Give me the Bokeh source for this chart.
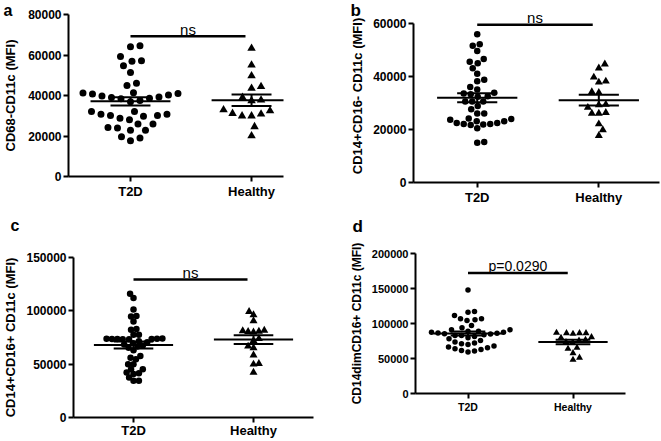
import numpy as np
from bokeh.plotting import figure
from bokeh.models import Range1d, FixedTicker, Title
from bokeh.layouts import column, row
from bokeh.embed import file_html
from bokeh.resources import INLINE
from bokeh.core.properties import value

FONT = "Liberation Sans"

categories = ["T2D", "Healthy"]

# ---- panel a : CD68-CD11c (MFI)
t2d_a = [64600, 64100, 59200, 57200, 56900, 54700, 51400, 46000, 44900,
         41400, 41200, 41000, 40700, 40300, 39700, 39300, 39000, 38700, 38400, 37500, 36900,
         32100, 32100, 30800, 30800, 30100, 30100, 29800,
         28800, 28000, 25900, 25900, 24200, 23900, 22900, 22900,
         19600, 19000, 17600]
healthy_a = [63300, 55000, 49700, 44400, 43500, 39000, 37400, 37700, 32900, 31100,
             29900, 29900, 30800, 32400, 24600, 20100]

# ---- panel b : CD14+CD16- CD11c (MFI)
t2d_b = [55800, 52000, 51500, 49500, 46500, 45400, 44900, 43000, 40900, 38700, 38100, 35900, 35000,
         33800, 33500, 33200, 32500, 32300, 30500, 30500, 30500,
         28800, 27600, 26000, 26000, 24100,
         23900, 23600, 23000, 23000, 22400, 22400, 22000, 22000, 21800, 21600, 20400,
         15200, 15000]
healthy_b = [44500, 43000, 39600, 37700, 38100, 34100, 33800, 29200, 26300, 26000,
             26000, 28200, 29400, 22000, 19800, 17600]

# ---- panel c : CD14+CD16+ CD11c (MFI)
t2d_c = [116100, 112100, 101300, 95200, 94600, 89900, 82900, 82200, 77600, 77600,
         74000, 73800, 73600, 73400, 73900, 73700, 73500, 73300,
         71400, 70500, 69500, 68500, 67500, 66500, 65500, 63000,
         57600, 56100, 54500, 49900, 49900, 45300, 45300, 42200, 41600, 40700, 37600, 34500, 34500]
healthy_c = [99200, 96100, 90600, 81600, 81200, 80700, 80400, 80000, 74000, 72000,
             66800, 65300, 58500, 50500, 49900, 42200]

# ---- panel d : CD14dimCD16+ CD11c (MFI)
t2d_d = [147900, 117000, 116000, 111300, 106700, 106700, 105200, 104200, 97100,
         93900, 91000, 91000, 89000, 89000, 87600, 87600, 86500, 86000, 85500, 85000, 84000, 83000,
         82900, 81500, 79600, 78200, 75800, 73400, 72000,
         71100, 70100, 67700, 66300, 65400, 64000, 63000, 61600, 60600, 59200]
healthy_d = [86700, 86200, 86200, 86200, 85300, 80500, 79600, 76800, 75800, 73500,
             72500, 65400, 64000, 57700, 51200, 48300]

y_titles = ["CD68-CD11c (MFI)", "CD14+CD16- CD11c (MFI)",
            "CD14+CD16+ CD11c (MFI)", "CD14dimCD16+ CD11c (MFI)"]
y_ticks_a = [0, 20000, 40000, 60000, 80000]
y_ticks_b = [0, 20000, 40000, 60000]
y_ticks_c = [0, 50000, 100000, 150000]
y_ticks_d = [0, 50000, 100000, 150000, 200000]
panel_letters = ["a", "b", "c", "d"]
sig_texts = ["ns", "ns", "ns", "p=0.0290"]
sig_y = [69200, 59400, 129400, 172000]


def swarm(vals, vpx, upx, dmin):
    """beeswarm offsets (data x units); vpx: px per value, upx: px per x unit"""
    vals = np.asarray(vals, float)
    order = np.argsort(vals, kind="stable")
    placed = []
    offs = np.zeros(len(vals))
    pref = 1.0
    for i in order:
        y = vals[i] * vpx
        best = None
        k = 0
        while best is None:
            cands = [0.0] if k == 0 else [pref * k * 0.5, -pref * k * 0.5]
            for c in cands:
                if all((c - px) ** 2 + (y - py) ** 2 >= dmin ** 2 for px, py in placed):
                    best = c
                    break
            k += 1
        if best != 0:
            pref = -np.sign(best)
        placed.append((best, y))
        offs[i] = best / upx
    return offs


def make_title(**kw):
    try:
        return Title(**kw)
    except ValueError:
        kw["standoff"] = 0
        return Title(**kw)


def add_letter(p, text, fpx, left, base, FL, FT):
    """panel letter as a plot title placed in the top border"""
    asc, desc = 0.905 * fpx, 0.212 * fpx
    h = asc + desc
    common = dict(text=text, align="left", offset=left - FL, text_font=FONT,
                  text_font_size=f"{fpx}px", text_font_style="bold", text_color="black")
    s_top = 2 * (FT - 2 - desc - base)
    s_bot = 2 * (FT - desc - base)
    if 0 <= 2 + h + s_top <= FT:
        p.title = make_title(vertical_align="top", standoff=s_top, **common)
    elif 0 <= 2 + h + s_bot <= FT:
        p.title = make_title(vertical_align="bottom", standoff=s_bot, **common)
    else:
        # white (invisible) spacer next to the frame, letter title stacked above it
        X = FT - desc - base
        sp_h = 1.117 * 10
        p.add_layout(make_title(text=" ", text_font_size="10px", text_color="white",
                                standoff=max(X - 2 - sp_h, 0)), "above")
        p.add_layout(make_title(vertical_align="bottom", standoff=0, **common), "above")


def make_panel(cfg):
    W, H = cfg["W"], cfg["H"]
    FL, FR, FT, FB = cfg["FL"], cfg["FR"], cfg["FT"], cfg["FB"]
    xs, xe = cfg["xr"]
    ticks = cfg["ticks"]
    ymax = ticks[-1]
    fw = W - FL - FR
    fh = H - FT - FB
    top_rel = cfg.get("ytop", FT) - FT
    ye = ymax * fh / (fh - top_rel)
    upx = fw / (xe - xs)
    vpx = fh / ye

    p = figure(width=W, height=H, x_range=Range1d(xs, xe), y_range=Range1d(0, ye),
               output_backend="svg", toolbar_location=None,
               min_border_left=FL, min_border_right=FR,
               min_border_top=FT, min_border_bottom=FB)
    try:
        p.frame_align = False
    except Exception:
        pass
    p.xgrid.visible = False
    p.ygrid.visible = False
    p.outline_line_color = None
    p.background_fill_color = "white"
    p.border_fill_color = "white"

    for ax in (p.xaxis, p.yaxis):
        ax.axis_line_width = 2
        ax.axis_line_color = "black"
        ax.major_tick_line_width = 2
        ax.major_tick_line_color = "black"
        ax.major_tick_out = 5
        ax.major_tick_in = 0
        ax.minor_tick_line_color = None
        ax.major_label_text_font = FONT
        ax.major_label_text_font_style = "bold"
        ax.major_label_text_color = "black"

    p.xaxis.ticker = FixedTicker(ticks=[1, 2])
    p.xaxis.major_label_overrides = {1: categories[0], 2: categories[1]}
    p.xaxis.major_label_text_font_size = cfg["xfs"]
    p.xaxis.major_label_standoff = cfg.get("xstand", 2)

    p.yaxis.ticker = FixedTicker(ticks=ticks)
    p.yaxis.major_label_overrides = {t: str(t) for t in ticks}
    p.yaxis.major_label_text_font_size = cfg["yfs"]
    p.yaxis.major_label_standoff = 2
    p.yaxis.bounds = (0, ymax)
    p.yaxis.axis_label = cfg["title"]
    p.yaxis.axis_label_text_font = FONT
    p.yaxis.axis_label_text_font_style = "bold"
    p.yaxis.axis_label_text_font_size = cfg["tfs"]
    p.yaxis.axis_label_text_color = "black"
    p.yaxis.axis_label_standoff = cfg.get("tstand", 5)

    # points, mean and SEM
    for ci, (vals, marker, size) in enumerate([(cfg["g1"], "circle", cfg["cs"]),
                                               (cfg["g2"], "triangle", cfg["ts"])]):
        c = ci + 1
        offs = swarm(vals, vpx, upx, cfg["dmin"])
        p.scatter(x=c + offs, y=vals, marker=marker, size=size,
                  fill_color="black", line_color=None)
        v = np.asarray(vals, float)
        m = v.mean()
        s = v.std(ddof=1) / np.sqrt(len(v))
        p.segment(x0=[c - 0.33], y0=[m], x1=[c + 0.33], y1=[m], line_color="black", line_width=2)
        p.segment(x0=[c - 0.165, c - 0.165], y0=[m - s, m + s], x1=[c + 0.165, c + 0.165],
                  y1=[m - s, m + s], line_color="black", line_width=2)
        p.segment(x0=[c], y0=[m - s], x1=[c], y1=[m + s], line_color="black", line_width=2)

    # significance bracket
    sy = cfg["sig_y"]
    p.segment(x0=[1.0], y0=[sy], x1=[1.95], y1=[sy], line_color="black", line_width=2.5)
    p.text(x=[1.475], y=[sy + 7 / vpx], text=[cfg["sig"]], text_font=value(FONT),
           text_font_size=cfg["sfs"], text_align="center", text_baseline="alphabetic",
           text_color="black")

    lx, lb, lf = cfg["letter_at"]
    add_letter(p, cfg["letter"], lf, lx, lb, FL, FT)
    return p


cfgs = [
    dict(W=338, H=207, FL=68, FR=55, FT=14, FB=31, xr=(0.488, 2.264), ticks=y_ticks_a,
         title=y_titles[0], g1=t2d_a, g2=healthy_a, cs=7, ts=8.5, dmin=9.5,
         xfs="13px", yfs="12px", tfs="13px", tstand=7, sig=sig_texts[0], sig_y=sig_y[0],
         sfs="15px", letter=panel_letters[0], letter_at=(3, 15, 16)),
    dict(W=322, H=207, FL=75, FR=1, FT=9, FB=23, ytop=22.7, xr=(0.476, 2.499), ticks=y_ticks_b,
         title=y_titles[1], g1=t2d_b, g2=healthy_b, cs=6.5, ts=8, dmin=7,
         xfs="13px", yfs="12px", tfs="13px", tstand=5, sig=sig_texts[1], sig_y=sig_y[1],
         sfs="15px", letter=panel_letters[1], letter_at=(12, 15.8, 17)),
    dict(W=338, H=233, FL=68, FR=25, FT=50, FB=21, xr=(0.5, 2.5), ticks=y_ticks_c,
         title=y_titles[2], g1=t2d_c, g2=healthy_c, cs=6.5, ts=8, dmin=5.5,
         xfs="13px", yfs="12px", tfs="13px", tstand=5, xstand=0, sig=sig_texts[2], sig_y=sig_y[2],
         sfs="15px", letter=panel_letters[2], letter_at=(5, 22.3, 16)),
    dict(W=322, H=233, FL=77, FR=35, FT=46, FB=47, xr=(0.5, 2.5), ticks=y_ticks_d,
         title=y_titles[3], g1=t2d_d, g2=healthy_d, cs=5.5, ts=7, dmin=6.5,
         xfs="10.5px", yfs="11px", tfs="12px", tstand=5, sig=sig_texts[3], sig_y=sig_y[3],
         sfs="14px", letter=panel_letters[3], letter_at=(14, 24.7, 17)),
]

pa, pb, pc, pd = [make_panel(c) for c in cfgs]
layout = column(row(pa, pb), row(pc, pd))
open("out.html", "w").write(file_html(layout, INLINE))
